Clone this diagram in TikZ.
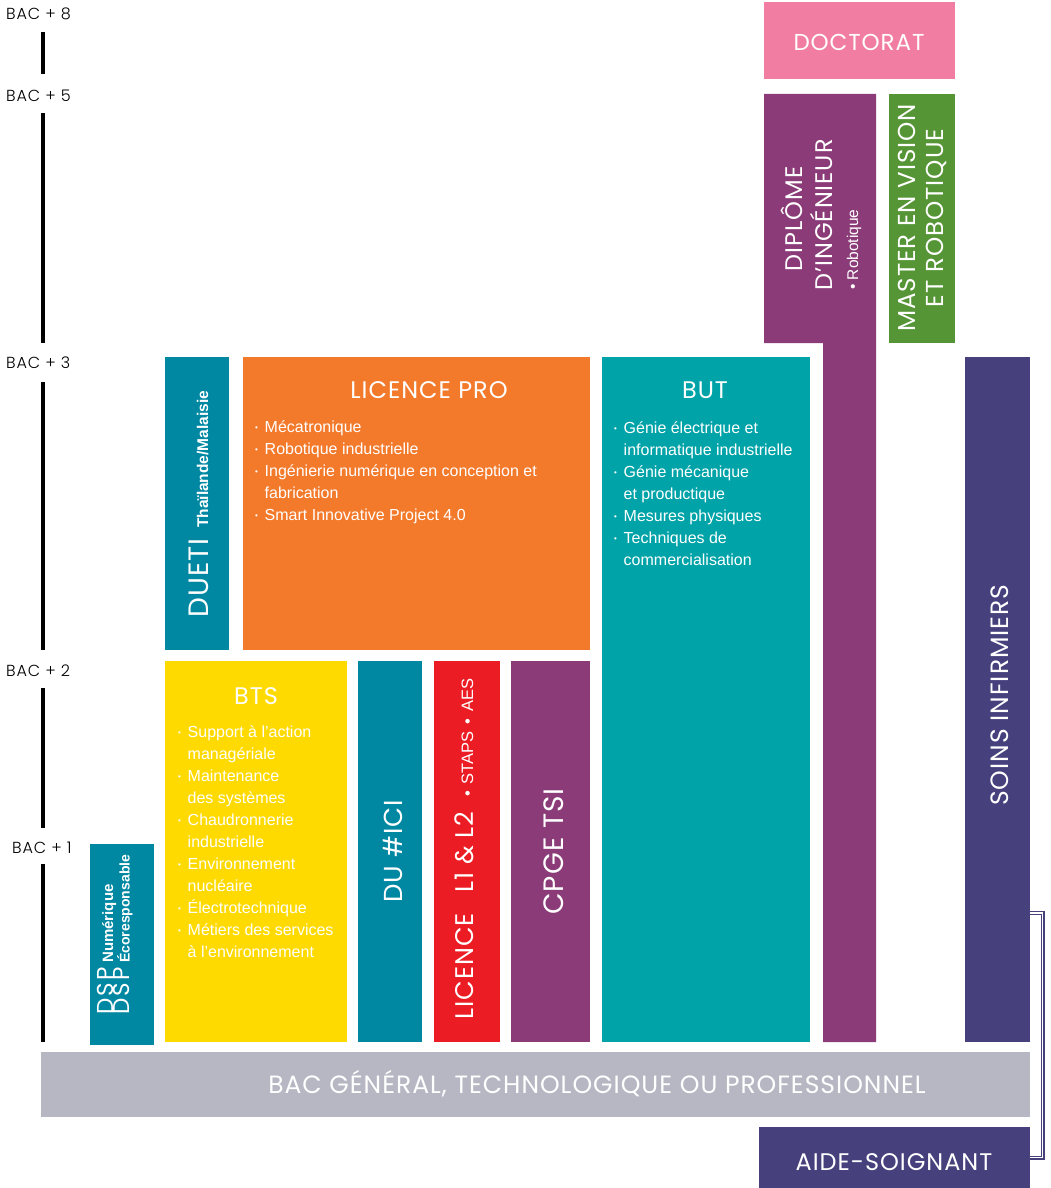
\documentclass[tikz,border=0pt]{standalone}
\usepackage{fontspec}
\setmainfont{Liberation Sans}
\newfontfamily\tf{Poppins}[LetterSpace=4]
\newfontfamily\tfl{Poppins Light}[LetterSpace=5]
\definecolor{cpink}{HTML}{F17EA2}
\definecolor{cpurp}{HTML}{8B3B78}
\definecolor{cgreen}{HTML}{559535}
\definecolor{cdark}{HTML}{46417D}
\definecolor{ctealdk}{HTML}{0088A3}
\definecolor{corange}{HTML}{F3792B}
\definecolor{cteal}{HTML}{00A3A8}
\definecolor{cyellow}{HTML}{FFDA00}
\definecolor{cred}{HTML}{EC1C24}
\definecolor{cgrey}{HTML}{B7B7C3}
\newcommand\bul{\makebox[9.5pt][l]{\raisebox{1.8pt}{\fontsize{8}{8}\selectfont•}}}
\newcommand\ind{\hspace*{9.5pt}}
\tikzset{
  box/.style={inner sep=0pt, outer sep=0pt, anchor=north west},
  body/.style={text=white, font=\fontsize{16}{18}\selectfont, inner sep=0pt, anchor=base west},
  title/.style={text=white, font=\tf\fontsize{24}{26}\selectfont, inner sep=0pt, anchor=base},
  vtitle/.style={text=white, font=\tf\fontsize{24}{26}\selectfont, inner sep=0pt, anchor=base west, rotate=90},
  small/.style={text=white, font=\bfseries\fontsize{15.5}{16}\selectfont, inner sep=0pt, anchor=base west, rotate=90},
  lvl/.style={text=black, font=\tfl\fontsize{16}{18}\selectfont, inner sep=0pt, anchor=base west},
  bar/.style={line width=4pt, black},
  bracket/.style={draw=cdark, line width=1.2pt, double=white, double distance=1.6pt}
}
\begin{document}
\begin{tikzpicture}[x=1pt, y=-1pt]
\useasboundingbox (0,0) rectangle (1050,1188);

% level labels and bars
\node[lvl] (b8) at (6,20) {BAC + 8};
\node[lvl] (b5) at (6,102) {BAC + 5};
\node[lvl] (b3) at (6,368) {BAC + 3};
\node[lvl] (b2) at (6,676) {BAC + 2};
\node[lvl] (b1) at (12,853) {BAC + 1};
\draw[bar] (43,32) -- (43,74);
\draw[bar] (43,113) -- (43,343);
\draw[bar] (43,382) -- (43,650);
\draw[bar] (43,688) -- (43,828);
\draw[bar] (43,864) -- (43,1042);

% boxes
\node[box, fill=cpink, minimum width=191pt, minimum height=77pt] (doct) at (764,2) {};
\path[fill=cpurp] (764,94) -- (876,94) -- (876,1042) -- (823,1042) -- (823,343) -- (764,343) -- cycle;
\coordinate (dipl) at (820,218);
\node[box, fill=cgreen, minimum width=66pt, minimum height=249pt] (master) at (889,94) {};
\node[box, fill=cdark, minimum width=65pt, minimum height=685pt] (soins) at (965,357) {};
\node[box, fill=ctealdk, minimum width=64pt, minimum height=293pt] (dueti) at (165,357) {};
\node[box, fill=corange, minimum width=347pt, minimum height=293pt] (lpro) at (243,357) {};
\node[box, fill=cteal, minimum width=208pt, minimum height=685pt] (but) at (602,357) {};
\node[box, fill=cyellow, minimum width=182pt, minimum height=381pt] (bts) at (165,661) {};
\node[box, fill=ctealdk, minimum width=64pt, minimum height=381pt] (duici) at (358,661) {};
\node[box, fill=cred, minimum width=66pt, minimum height=381pt] (lic) at (434,661) {};
\node[box, fill=cpurp, minimum width=79pt, minimum height=381pt] (cpge) at (511,661) {};
\node[box, fill=ctealdk, minimum width=64pt, minimum height=201pt] (dsp) at (90,844) {};
\node[box, fill=cgrey, minimum width=989pt, minimum height=65pt] (bac) at (41,1052) {};
\node[box, fill=cdark, minimum width=271pt, minimum height=61pt] (aide) at (759,1127) {};

% horizontal titles
\node[title, font=\tf\fontsize{23}{26}\selectfont] (tdoct) at (859,51) {DOCTORAT};
\node[title] (tlpro) at (429,398) {LICENCE PRO};
\node[title] (tbut) at (705,398) {BUT};
\node[title] (tbts) at (256,704) {BTS};
\node[title, font=\tf\fontsize{25}{26}\selectfont] (tbac) at (597,1093) {BAC GÉNÉRAL, TECHNOLOGIQUE OU PROFESSIONNEL};
\node[title] (taide) at (894,1170) {AIDE-SOIGNANT};

% vertical titles
\node[vtitle, font=\tf\fontsize{28}{30}\selectfont] (tdueti) at (208,618) {DUETI};
\node[small] (tthai) at (208,528) {Thaïlande/Malaisie};
\node[vtitle, font=\tf\fontsize{23}{24}\selectfont] (tdsp1) at (113,1015) {D\hspace{2.5pt}S\hspace{2.5pt}P};
\node[vtitle, font=\tf\fontsize{23}{24}\selectfont] (tdsp2) at (129.5,1015) {D\hspace{2.5pt}S\hspace{2.5pt}P};
\node[small, font=\bfseries\fontsize{15}{16}\selectfont] (tnum) at (113,963) {Numérique};
\node[small, font=\bfseries\fontsize{14}{15}\selectfont] (teco) at (129.5,963) {Écoresponsable};
\node[vtitle, font=\tf\fontsize{26}{30}\selectfont] (tduici) at (402,903) {DU \#ICI};
\node[vtitle, font=\tf\fontsize{25.5}{27}\selectfont] (tlic) at (473,1020) {LICENCE};
\node[vtitle, font=\tf\fontsize{25.5}{27}\selectfont] (tl12) at (473,893) {L1 \& L2};
\node[vtitle, font=\rmfamily\fontsize{16.5}{17}\selectfont] (tstaps) at (473,797) {•\hspace{7pt}STAPS\hspace{7pt}•\hspace{7pt}AES};
\node[vtitle, font=\tf\fontsize{28}{30}\selectfont] (tcpge) at (563,915) {CPGE TSI};
\node[vtitle, font=\tf\fontsize{25}{27}\selectfont] (tsoins) at (1008,806) {SOINS INFIRMIERS};
\node[vtitle, anchor=base] (tdip1) at (802,219) {DIPLÔME};
\node[vtitle, anchor=base] (tdip2) at (832,215) {D’INGÉNIEUR};
\node[vtitle, font=\rmfamily\fontsize{15.5}{16}\selectfont] (tdip3) at (858,290) {• Robotique};
\node[vtitle, anchor=base, font=\tf\fontsize{24.5}{26}\selectfont] (tmas1) at (915,218) {MASTER EN VISION};
\node[vtitle, anchor=base, font=\tf\fontsize{24.5}{26}\selectfont] (tmas2) at (943,218) {ET ROBOTIQUE};

% lists
\foreach \txt [count=\i] in {
  {\bul Mécatronique},
  {\bul Robotique industrielle},
  {\bul Ingénierie numérique en conception et},
  {\ind fabrication},
  {\bul Smart Innovative Project 4.0}}
  \node[body] (lp\i) at (255,{432+22*(\i-1)}) {\txt};

\foreach \txt [count=\i] in {
  {\bul Génie électrique et},
  {\ind informatique industrielle},
  {\bul Génie mécanique},
  {\ind et productique},
  {\bul Mesures physiques},
  {\bul Techniques de},
  {\ind commercialisation}}
  \node[body] (bu\i) at (614,{433+22*(\i-1)}) {\txt};

\foreach \txt [count=\i] in {
  {\bul Support à l’action},
  {\ind managériale},
  {\bul Maintenance},
  {\ind des systèmes},
  {\bul Chaudronnerie},
  {\ind industrielle},
  {\bul Environnement},
  {\ind nucléaire},
  {\bul Électrotechnique},
  {\bul Métiers des services},
  {\ind à l’environnement}}
  \node[body] (bt\i) at (178,{737+22*(\i-1)}) {\txt};

% bracket connector
\draw[bracket] ([yshift=129pt]soins.south east) -- ++(12.5,0) |- (aide.east);
\end{tikzpicture}
\end{document}
